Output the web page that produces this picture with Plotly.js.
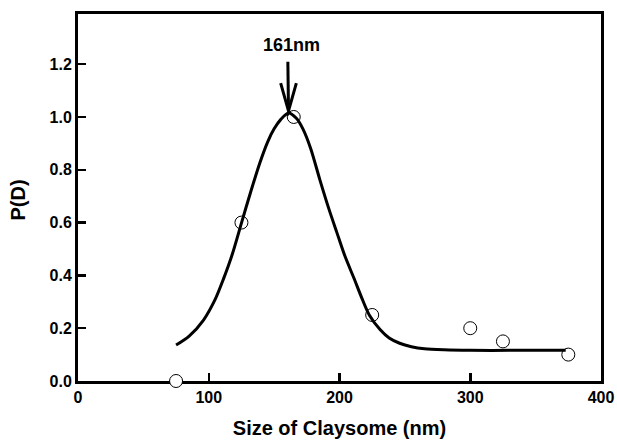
<!DOCTYPE html>
<html>
<head>
<meta charset="utf-8">
<script src="https://cdn.plot.ly/plotly-3.0.1.min.js"></script>
<style>html,body{margin:0;padding:0;background:#fff}#chart{width:617px;height:444px}</style>
</head>
<body>
<div id="chart"></div>
<script>
// Measured data points
const sizeNm = [75, 125, 165, 225, 300, 325, 375];
const probD = [0.0, 0.6, 1.0, 0.25, 0.2, 0.15, 0.1];

// Fitted curve
const fitX = [75, 85, 96, 105, 111, 118, 125, 132, 139, 145, 150, 155, 161, 167, 172, 178, 185, 192, 198, 204, 211, 217, 223, 231, 238, 246, 255, 265, 280, 300, 330, 373];
const fitY = [0.136, 0.17, 0.231, 0.31, 0.383, 0.48, 0.598, 0.715, 0.825, 0.905, 0.955, 0.99, 1.015, 0.995, 0.955, 0.88, 0.762, 0.65, 0.562, 0.475, 0.39, 0.315, 0.248, 0.195, 0.163, 0.143, 0.13, 0.122, 0.118, 0.116, 0.116, 0.116];

// Peak annotation
const peakLabel = "161nm";
const peakX = 161;
const peakTipY = 1.023;

// Titles
const xTitle = "Size of Claysome (nm)";
const yTitle = "P(D)";

// Ticks
const xTicks = [0, 100, 200, 300, 400];
const yTicks = [0.0, 0.2, 0.4, 0.6, 0.8, 1.0, 1.2];
const yTickText = ["0.0", "0.2", "0.4", "0.6", "0.8", "1.0", "1.2"];

const font = "Liberation Sans, Arial, sans-serif";

const traces = [
  {
    x: sizeNm, y: probD, type: "scatter", mode: "markers",
    marker: {symbol: "circle", size: 13, color: "#ffffff", line: {color: "#000", width: 1}},
    cliponaxis: false, hoverinfo: "x+y"
  },
  {
    x: fitX, y: fitY, type: "scatter", mode: "lines",
    line: {color: "#000", width: 3, shape: "spline", smoothing: 0.8},
    cliponaxis: false, hoverinfo: "x+y"
  }
];

const layout = {
  width: 617, height: 444,
  margin: {l: 78, r: 16, t: 14, b: 63},
  paper_bgcolor: "#fff", plot_bgcolor: "#fff",
  showlegend: false,
  font: {family: font, color: "#000", size: 16},
  xaxis: {
    range: [0, 400], tickvals: xTicks, ticktext: xTicks.map(String),
    ticks: "inside", ticklen: 8, tickwidth: 2.5, tickcolor: "#000",
    showline: true, linewidth: 3, linecolor: "#000", mirror: true,
    showgrid: false, zeroline: false, layer: "below traces",
    tickfont: {family: font, size: 16, color: "#000", weight: "bold"},
    title: {text: "<b>" + xTitle + "</b>", font: {family: font, size: 20, color: "#000"}, standoff: 16}
  },
  yaxis: {
    range: [0, 1.39], tickvals: yTicks, ticktext: yTickText,
    ticks: "inside", ticklen: 8, tickwidth: 2.5, tickcolor: "#000",
    showline: true, linewidth: 3, linecolor: "#000", mirror: true,
    showgrid: false, zeroline: false, layer: "below traces",
    tickfont: {family: font, size: 16, color: "#000", weight: "bold"}
  },
  annotations: [
    {
      x: peakX + 2, y: 1.273, xref: "x", yref: "y",
      text: "<b>" + peakLabel + "</b>", showarrow: false,
      font: {family: font, size: 18, color: "#000"}
    },
    {
      x: 0, y: 0.5, xref: "paper", yref: "paper", xshift: -61, yshift: -3,
      xanchor: "center", yanchor: "middle", textangle: -90,
      text: "<b>" + yTitle + "</b>", showarrow: false,
      font: {family: font, size: 20, color: "#000"}
    }
  ],
  shapes: [
    {type: "line", xref: "x", yref: "y", x0: peakX - 0.5, y0: 1.209, x1: peakX, y1: peakTipY,
     line: {color: "#000", width: 3}},
    {type: "path", xref: "x", yref: "y",
     path: "M " + (peakX - 6) + " 1.128 L " + peakX + " " + peakTipY + " L " + (peakX + 6) + " 1.128",
     line: {color: "#000", width: 3}}
  ]
};

Plotly.newPlot("chart", traces, layout, {displayModeBar: false, staticPlot: true});
</script>
</body>
</html>
